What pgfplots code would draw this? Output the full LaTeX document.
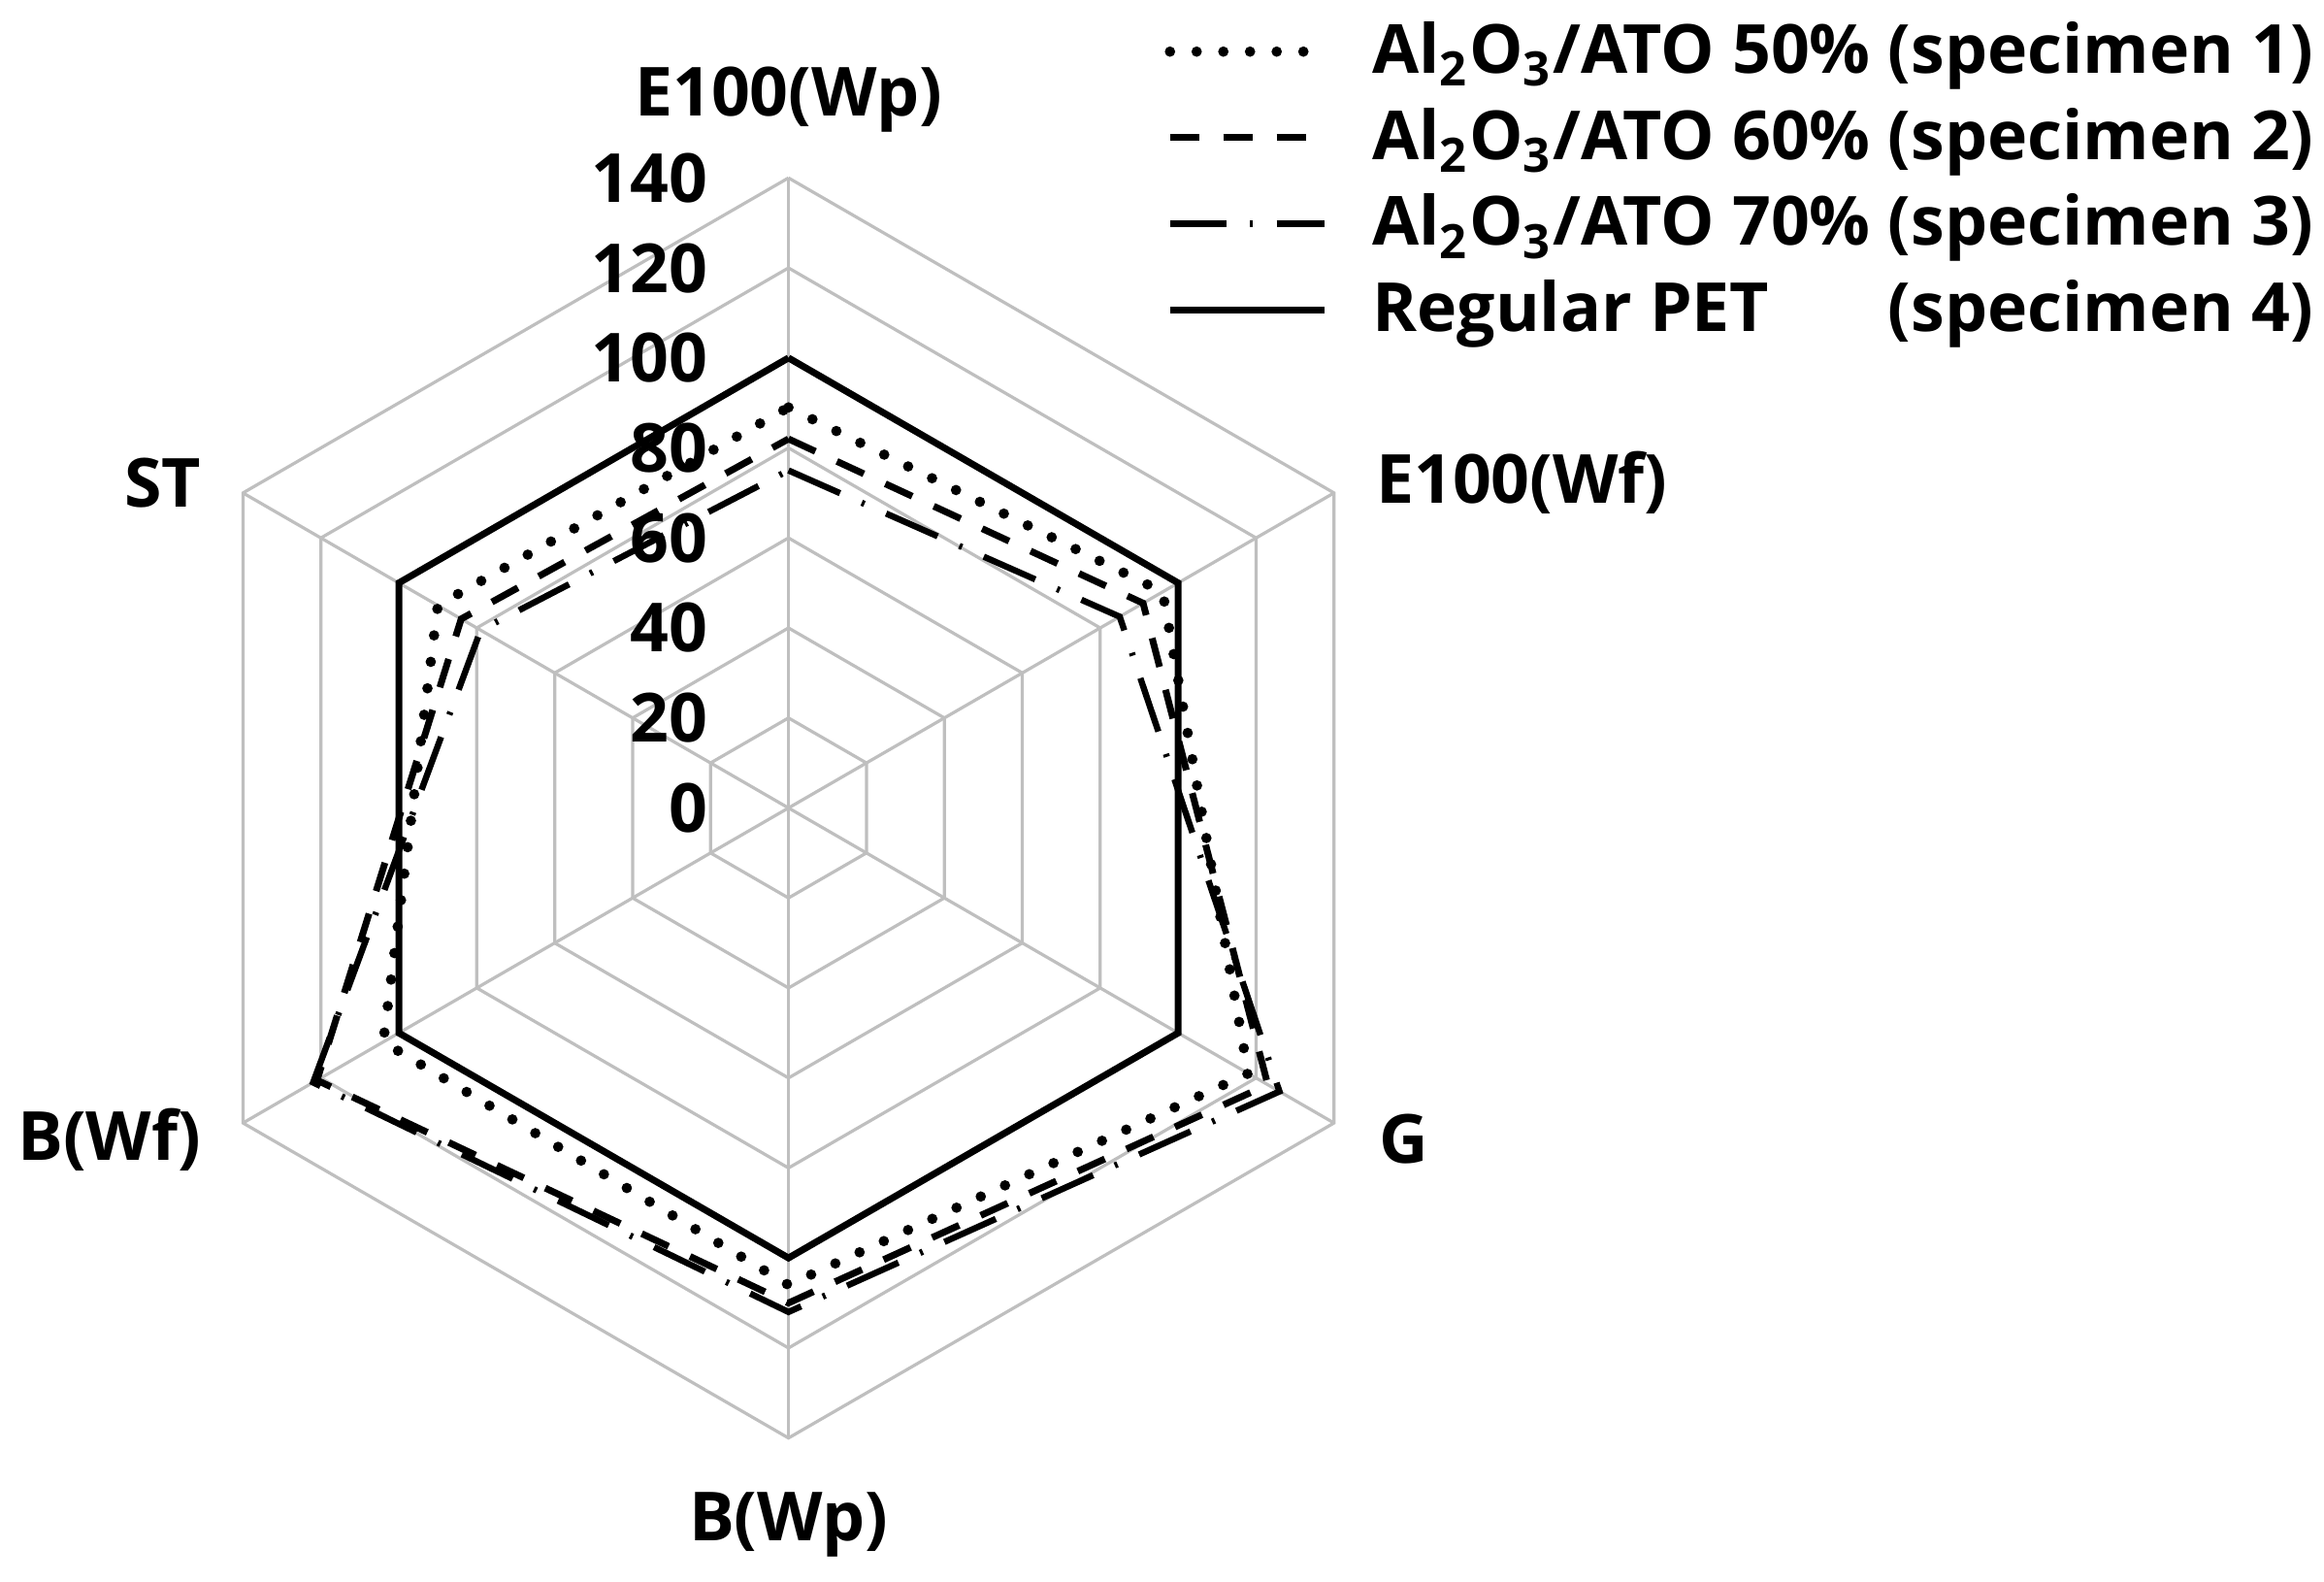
\documentclass[border=0pt]{standalone}
\usepackage{pgfplots}
\pgfplotsset{compat=1.18}
\usepgfplotslibrary{polar}
\usepackage{fontspec}
\setmainfont{Open Sans}

\newcommand\lbl{\fontsize{13}{16}\selectfont\bfseries}

\begin{document}
\begin{tikzpicture}
\begin{polaraxis}[
    hide axis, scale only axis,
    width=85mm, height=85mm,
    xmin=0, xmax=360, ymin=0, ymax=140,
    clip=false,
    legend style={draw=none, fill=none, font=\lbl,
        at={(axis cs:66.0,196.5)}, anchor=north west,
        row sep=0.4mm,
        /tikz/every odd column/.append style={column sep=2.2mm}},
    legend cell align=left,
    legend image code/.code={\draw[#1] (0mm,0mm) -- (10.4mm,0mm);},
]
% hexagonal grid
\pgfplotsinvokeforeach{20,40,60,80,100,120,140}{
  \addplot[forget plot, color=black!25, line width=0.6pt]
    coordinates {(90,#1) (30,#1) (330,#1) (270,#1) (210,#1) (150,#1) (90,#1)};
}
\pgfplotsinvokeforeach{90,30,330,270,210,150}{
  \addplot[forget plot, color=black!25, line width=0.6pt]
    coordinates {(#1,0) (#1,140)};
}
\coordinate (c) at (axis cs:0,0);

% tick numbers along the top spoke
\pgfplotsinvokeforeach{0,20,40,60,80,100,120,140}{
  \node[font=\lbl, anchor=east, inner sep=0pt, xshift=-5.4mm] at (axis cs:90,#1) {#1};
}

% category labels
\node[font=\lbl, anchor=base, yshift=4.2mm] at (axis cs:90,140) {E100(Wp)};
\node[font=\lbl, anchor=west, xshift=1.6mm, yshift=0.7mm] at (axis cs:30,140) {E100(Wf)};
\node[font=\lbl, anchor=west, xshift=1.8mm, yshift=-1.1mm] at (axis cs:330,140) {G};
\node[font=\lbl, anchor=north, yshift=-2.4mm] at (axis cs:270,140) {B(Wp)};
\node[font=\lbl, anchor=east, xshift=-1.6mm, yshift=-1.1mm] at (axis cs:210,140) {B(Wf)};
\node[font=\lbl, anchor=east, xshift=-1.6mm, yshift=0.7mm] at (axis cs:150,140) {ST};

% data: E100(Wp), E100(Wf), G, B(Wp), B(Wf), ST
\addplot[black, line width=2pt, line cap=round, dash pattern=on 0pt off 1.8mm]
  coordinates {(90,89) (30,96) (330,118) (270,106) (210,104) (150,90) (90,89)};
\addlegendentry{Al\textsubscript{2}O\textsubscript{3}/ATO 50\% (specimen 1)}
\addplot[black, line width=1.3pt, dash pattern=on 2mm off 1.6mm]
  coordinates {(90,82) (30,91) (330,123) (270,110) (210,121) (150,84) (90,82)};
\addlegendentry{Al\textsubscript{2}O\textsubscript{3}/ATO 60\% (specimen 2)}
\addplot[black, line width=1.2pt, dash pattern=on 3.8mm off 1.6mm on 0.2mm off 1.6mm]
  coordinates {(90,75) (30,85) (330,126) (270,112) (210,122) (150,79) (90,75)};
\addlegendentry{Al\textsubscript{2}O\textsubscript{3}/ATO 70\% (specimen 3)}
\addplot[black, line width=1.3pt]
  coordinates {(90,100) (30,100) (330,100) (270,100) (210,100) (150,100) (90,100)};
\addlegendentry{\rlap{Regular PET}\hphantom{Al\textsubscript{2}O\textsubscript{3}/ATO 50\% }(specimen 4)}
\end{polaraxis}
\pgfresetboundingbox
\path[use as bounding box] (c) ++(-53.2mm,-52.2mm) rectangle ++(156.8mm,106.7mm);
\end{tikzpicture}
\end{document}
